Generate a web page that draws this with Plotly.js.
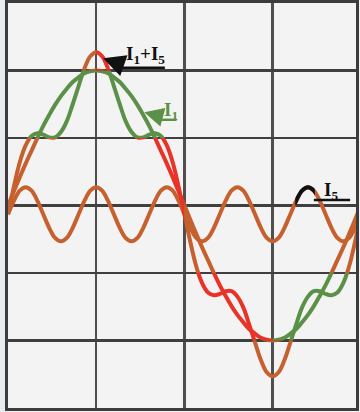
<!DOCTYPE html>
<html>
<head>
<meta charset="utf-8">
<script src="https://cdn.plot.ly/plotly-3.0.1.min.js"></script>
<style>html,body{margin:0;padding:0;background:#f3f3f3;}#chart{width:360px;height:412px;}</style>
</head>
<body>
<div id="chart"></div>
<script>
// phase angle (degrees)
const theta = [0,6,12,18,24,30,36,42,48,54,60,66,72,78,84,90,96,102,108,114,120,126,132,138,144,150,156,162,168,174,180,186,192,198,204,210,216,222,228,234,240,246,252,258,264,270,276,282,288,294,300,306,312,318,324,330,336,342,348,354,360];
// fundamental I1
const i1 = [0,0.21,0.42,0.62,0.81,1.00,1.18,1.34,1.49,1.62,1.73,1.83,1.90,1.96,1.99,2.00,1.99,1.96,1.90,1.83,1.73,1.62,1.49,1.34,1.18,1.00,0.81,0.62,0.42,0.21,0,-0.21,-0.42,-0.62,-0.81,-1.00,-1.18,-1.34,-1.49,-1.62,-1.73,-1.83,-1.90,-1.96,-1.99,-2.00,-1.99,-1.96,-1.90,-1.83,-1.73,-1.62,-1.49,-1.34,-1.18,-1.00,-0.81,-0.62,-0.42,-0.21,0];
// 5th harmonic I5
const i5 = [-0.13,0.07,0.22,0.27,0.22,0.07,-0.13,-0.33,-0.48,-0.53,-0.48,-0.33,
            -0.13,0.07,0.22,0.27,0.22,0.07,-0.13,-0.33,-0.48,-0.53,-0.48,-0.33,
            -0.13,0.07,0.22,0.27,0.22,0.07,-0.13,-0.33,-0.48,-0.53,-0.48,-0.33,
            -0.13,0.07,0.22,0.27,0.22,0.07,-0.13,-0.33,-0.48,-0.53,-0.48,-0.33,
            -0.13,0.07,0.22,0.27,0.22,0.07,-0.13,-0.33,-0.48,-0.53,-0.48,-0.33,-0.13];
// resultant I1+I5
const iSum = [-0.13,0.28,0.64,0.89,1.03,1.07,1.05,1.01,1.01,1.09,1.25,1.50,1.77,2.03,2.21,2.27,2.21,2.03,1.77,1.50,1.25,1.09,1.01,1.01,1.05,1.07,1.03,0.89,0.64,0.28,-0.13,-0.54,-0.90,-1.15,-1.29,-1.33,-1.31,-1.27,-1.27,-1.35,-1.51,-1.76,-2.03,-2.29,-2.47,-2.53,-2.47,-2.29,-2.03,-1.76,-1.51,-1.35,-1.27,-1.27,-1.31,-1.33,-1.29,-1.15,-0.90,-0.54,-0.13];
const labels = ['I<sub>1</sub>+I<sub>5</sub>', 'I<sub>1</sub>', 'I<sub>5</sub>'];

const BROWN = '#c6612f', GREEN = '#5b9147', RED = '#ea3327', BLACK = '#111111';
const XMAX = 355, YMIN = -3, YMAX = 3;
const LW = 4;

// colour zones (clip windows) for I1 and I1+I5
const zones = [
  {x:[0,90],    y:[-3,1],  c:BROWN},
  {x:[0,180],   y:[1,2],   c:GREEN},
  {x:[0,90],    y:[2,3],   c:BROWN},
  {x:[90,180],  y:[2,3],   c:RED},
  {x:[90,180],  y:[-3,1],  c:RED},
  {x:[180,XMAX],y:[-1,3],  c:BROWN},
  {x:[180,270], y:[-2,-1], c:RED},
  {x:[270,XMAX],y:[-2,-1], c:GREEN},
  {x:[180,XMAX],y:[-3,-2], c:BROWN},
  {x:[293,313], y:[0,0.6], c:BLACK, only5:true}
];

const traces = [];
traces.push({x:theta, y:i5, type:'scatter', mode:'lines', line:{color:BROWN, width:LW, shape:'spline', smoothing:1}, hoverinfo:'skip', xaxis:'x', yaxis:'y'});

const layout = {
  width:360, height:412,
  margin:{l:8, r:4, t:3, b:4},
  paper_bgcolor:'#f3f3f3',
  plot_bgcolor:'rgba(0,0,0,0)',
  showlegend:false,
  xaxis:{range:[0,XMAX], tick0:0, dtick:90, showgrid:true, gridcolor:'#4f4f4f', gridwidth:2.5,
         showline:true, mirror:true, linecolor:'#3c3c3c', linewidth:3, zeroline:false,
         showticklabels:false, ticks:'', fixedrange:true},
  yaxis:{range:[YMIN,YMAX], tick0:0, dtick:1, showgrid:true, gridcolor:'#3f3f3f', gridwidth:2.5,
         showline:true, mirror:true, linecolor:'#3c3c3c', linewidth:3, zeroline:false,
         showticklabels:false, ticks:'', fixedrange:true},
  shapes:[
    {type:'rect', xref:'paper', yref:'paper', x0:-0.03, x1:-0.004, y0:-0.02, y1:1.02, fillcolor:'#e7eaee', line:{width:0}, layer:'below'},
    {type:'line', xref:'x', yref:'y', x0:108, x1:160, y0:2.04, y1:2.04, line:{color:BLACK, width:2.5}},
    {type:'line', xref:'x', yref:'y', x0:150, x1:172, y0:1.27, y1:1.27, line:{color:GREEN, width:2.5}},
    {type:'line', xref:'x', yref:'y', x0:312, x1:349, y0:0.08, y1:0.08, line:{color:BLACK, width:2.5}}
  ],
  annotations:[
    {x:118, y:2.23, xref:'x', yref:'y', xanchor:'left', yanchor:'middle', text:'<b>'+labels[0]+'</b>', showarrow:false,
     font:{family:'Liberation Serif, DejaVu Serif, serif', size:19, color:BLACK}},
    {x:97, y:2.18, xref:'x', yref:'y', ax:20, ay:7, text:'', showarrow:true, arrowhead:2, arrowsize:1.1, arrowwidth:4, arrowcolor:BLACK},
    {x:157, y:1.40, xref:'x', yref:'y', xanchor:'left', yanchor:'middle', text:'<b>'+labels[1]+'</b>', showarrow:false,
     font:{family:'Liberation Serif, DejaVu Serif, serif', size:19, color:GREEN}},
    {x:139, y:1.38, xref:'x', yref:'y', ax:15, ay:4, text:'', showarrow:true, arrowhead:2, arrowsize:1.1, arrowwidth:3.5, arrowcolor:GREEN},
    {x:320, y:0.22, xref:'x', yref:'y', xanchor:'left', yanchor:'middle', text:'<b>'+labels[2]+'</b>', showarrow:false,
     font:{family:'Liberation Serif, DejaVu Serif, serif', size:19, color:BLACK}}
  ]
};

zones.forEach(function(z, k){
  const n = k + 2;
  const xa = 'x' + n, ya = 'y' + n;
  layout['xaxis' + n] = {domain:[z.x[0]/XMAX, z.x[1]/XMAX], range:[z.x[0], z.x[1]], visible:false, anchor:ya, fixedrange:true};
  layout['yaxis' + n] = {domain:[(z.y[0]-YMIN)/(YMAX-YMIN), (z.y[1]-YMIN)/(YMAX-YMIN)], range:[z.y[0], z.y[1]], visible:false, anchor:xa, fixedrange:true};
  const series = z.only5 ? [i5] : [i1, iSum];
  series.forEach(function(s){
    traces.push({x:theta, y:s, type:'scatter', mode:'lines', line:{color:z.c, width:LW, shape:'spline', smoothing:1}, hoverinfo:'skip', xaxis:xa, yaxis:ya});
  });
});

Plotly.newPlot('chart', traces, layout, {displayModeBar:false, staticPlot:true});
</script>
</body>
</html>
